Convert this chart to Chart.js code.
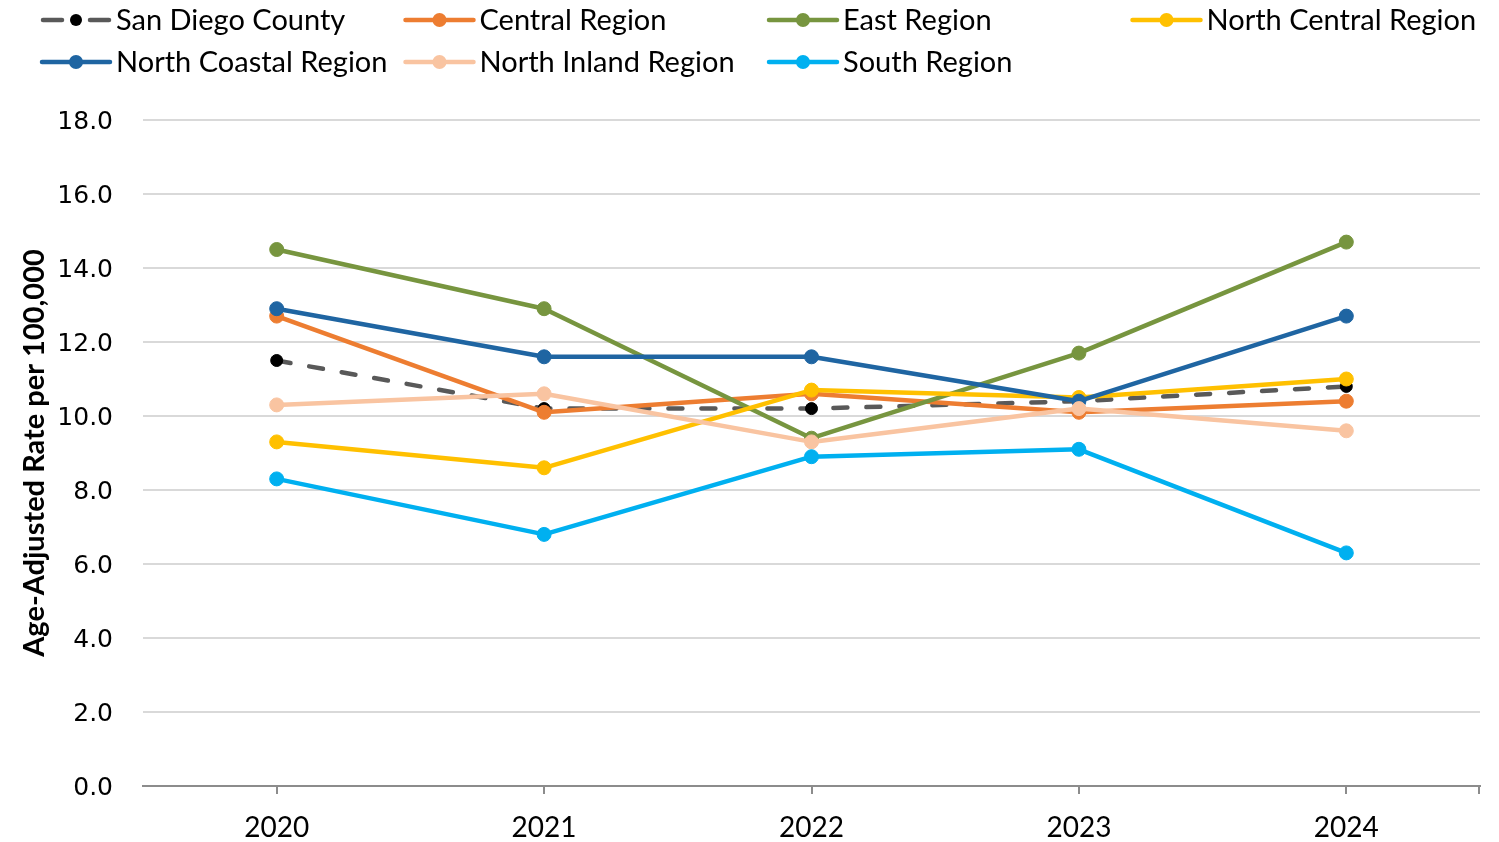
<!DOCTYPE html>
<html>
<head>
<meta charset="utf-8">
<script src="https://cdn.jsdelivr.net/npm/chart.js@4/dist/chart.umd.min.js"></script>
<style>
  html, body { margin: 0; padding: 0; background: #ffffff; }
  #wrap { position: relative; width: 1499px; height: 842px; }
</style>
</head>
<body>
<div id="wrap"><canvas id="c" width="1499" height="842"></canvas></div>
<script>
// Age-adjusted rates per 100,000 by region, 2020-2024
const years = ['2020', '2021', '2022', '2023', '2024'];
const seriesNames = ['San Diego County', 'Central Region', 'East Region', 'North Central Region',
                     'North Coastal Region', 'North Inland Region', 'South Region'];
const sanDiegoCounty     = [11.5, 10.2, 10.2, 10.4, 10.8];
const centralRegion      = [12.7, 10.1, 10.6, 10.1, 10.4];
const eastRegion         = [14.5, 12.9,  9.4, 11.7, 14.7];
const northCentralRegion = [ 9.3,  8.6, 10.7, 10.5, 11.0];
const northCoastalRegion = [12.9, 11.6, 11.6, 10.4, 12.7];
const northInlandRegion  = [10.3, 10.6,  9.3, 10.2,  9.6];
const southRegion        = [ 8.3,  6.8,  8.9,  9.1,  6.3];
const yMin = 0, yMax = 18, yStep = 2;

const seriesValues = [sanDiegoCounty, centralRegion, eastRegion, northCentralRegion,
                      northCoastalRegion, northInlandRegion, southRegion];
const lineColors  = ['#595959', '#ED7D31', '#77953F', '#FFC000', '#1F65A2', '#F9C4A1', '#00B0F0'];
const pointColors = ['#000000', '#ED7D31', '#77953F', '#FFC000', '#1F65A2', '#F9C4A1', '#00B0F0'];

const datasets = seriesNames.map((name, i) => ({
  label: name,
  data: seriesValues[i],
  borderColor: lineColors[i],
  backgroundColor: pointColors[i],
  pointBackgroundColor: pointColors[i],
  pointBorderColor: pointColors[i],
  pointBorderWidth: 1,
  pointRadius: i === 0 ? 6 : 7,
  borderWidth: 4.5,
  borderDash: i === 0 ? [14, 19] : [],
  borderCapStyle: 'round',
  borderJoinStyle: 'round',
  tension: 0,
  fill: false,
  // later series sit on top
  order: seriesNames.length - i
}));

// Legend laid out on a fixed four-column grid above the plot
const gridLegend = {
  id: 'gridLegend',
  afterDraw(chart) {
    const ctx = chart.ctx;
    const cols = 4, colW = 363.5, x0 = 40, rowY = [20, 62], lineLen = 72, textGap = 4;
    ctx.save();
    ctx.font = '29px Lato, sans-serif';
    ctx.textBaseline = 'middle';
    ctx.textAlign = 'left';
    chart.data.datasets.forEach((ds, i) => {
      const x = x0 + (i % cols) * colW;
      const y = rowY[Math.floor(i / cols)];
      ctx.strokeStyle = ds.borderColor;
      ctx.lineWidth = 4.5;
      ctx.lineCap = 'round';
      if (ds.borderDash && ds.borderDash.length) {
        ctx.beginPath(); ctx.moveTo(x + 3, y); ctx.lineTo(x + 22, y); ctx.stroke();
        ctx.beginPath(); ctx.moveTo(x + 50, y); ctx.lineTo(x + 69, y); ctx.stroke();
      } else {
        ctx.beginPath(); ctx.moveTo(x + 2, y); ctx.lineTo(x + lineLen - 2, y); ctx.stroke();
      }
      ctx.fillStyle = ds.pointBackgroundColor;
      ctx.beginPath(); ctx.arc(x + lineLen / 2, y, ds.pointRadius, 0, Math.PI * 2); ctx.fill();
      ctx.fillStyle = '#000000';
      ctx.fillText(ds.label, x + lineLen + textGap, y + 1);
    });
    // closing tick at the right end of the category axis
    const xs = chart.scales.x;
    ctx.strokeStyle = '#8C8C8C';
    ctx.lineWidth = 2;
    ctx.lineCap = 'butt';
    ctx.beginPath(); ctx.moveTo(xs.right - 1, xs.top); ctx.lineTo(xs.right - 1, xs.top + 8); ctx.stroke();
    ctx.restore();
  }
};

new Chart(document.getElementById('c'), {
  type: 'line',
  data: { labels: years, datasets },
  plugins: [gridLegend],
  options: {
    responsive: false,
    animation: false,
    devicePixelRatio: 1,
    layout: { padding: { top: 120, right: 19, bottom: 0, left: 0 } },
    plugins: {
      legend: { display: false },
      title: { display: false },
      tooltip: { enabled: false }
    },
    scales: {
      x: {
        type: 'category',
        offset: true,
        afterFit(s) { s.height = 56; },
        border: { display: true, color: '#8C8C8C', width: 2 },
        grid: { display: true, offset: false, drawOnChartArea: false, drawTicks: true,
                tickLength: 8, color: '#8C8C8C', lineWidth: 2 },
        ticks: { color: '#000000', padding: 17, maxRotation: 0,
                 font: { family: 'Lato, sans-serif', size: 28 } }
      },
      y: {
        min: yMin, max: yMax,
        afterFit(s) { s.width = 143; },
        border: { display: false },
        grid: { color: '#D9D9D9', lineWidth: 2, drawTicks: false },
        ticks: { stepSize: yStep, padding: 30, labelOffset: 2.5, color: '#000000',
                 font: { family: 'DejaVu Sans, sans-serif', size: 25 },
                 callback: v => Number(v).toFixed(1) },
        title: { display: true, text: 'Age-Adjusted Rate per 100,000', color: '#000000',
                 padding: { top: 17, bottom: 0 },
                 font: { family: 'Lato, sans-serif', size: 29, weight: 'bold' } }
      }
    }
  }
});
</script>
</body>
</html>
